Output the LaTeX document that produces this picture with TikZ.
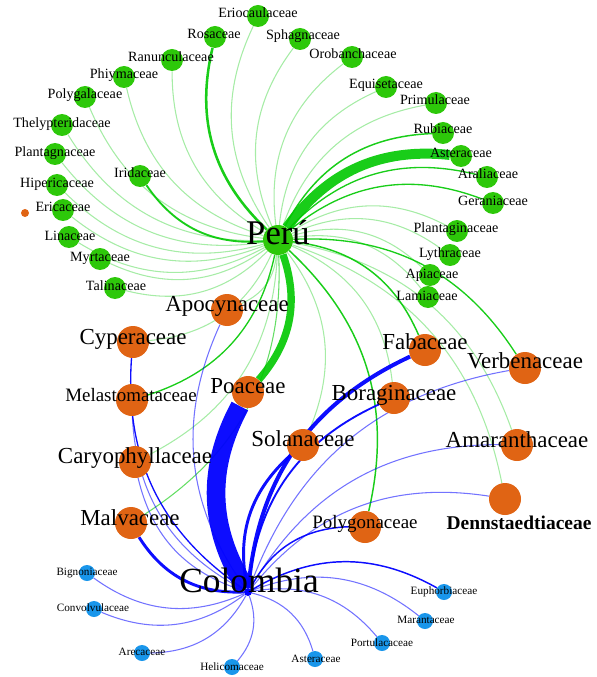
\documentclass[tikz,border=0pt]{standalone}
\usepackage{fontspec}
\setmainfont{Liberation Serif}
\pgfdeclarelayer{bg}\pgfdeclarelayer{fg}
\pgfsetlayers{bg,main,fg}
\definecolor{ngreen}{RGB}{45,200,10}
\definecolor{egreen}{RGB}{0,200,0}
\definecolor{norange}{RGB}{224,100,20}
\definecolor{nblue}{RGB}{25,150,235}
\definecolor{eblue}{RGB}{0,0,255}
\tikzset{
 gnode/.style={circle,fill=ngreen,inner sep=0,minimum size=16.5pt},
 onode/.style={circle,fill=norange,inner sep=0,minimum size=24pt},
 bnode/.style={circle,fill=nblue,inner sep=0,minimum size=12pt},
 lab/.style={inner sep=0,text height=0.45em,text depth=0pt,anchor=center,text=black},
 glab/.style={lab,font=\fontsize{10.6}{10.6}\selectfont},
 olab/.style={lab,font=\fontsize{17.2}{17.2}\selectfont},
 olabs/.style={lab,font=\fontsize{14.2}{14.2}\selectfont},
 dlab/.style={lab,font=\fontsize{14.6}{14.6}\selectfont\bfseries},
 blab/.style={lab,font=\fontsize{8.4}{8.4}\selectfont},
 hlab/.style={lab,font=\fontsize{26}{26}\selectfont},
 pe/.style={draw=egreen,draw opacity=.35,line width=.8pt,bend left=30},
 pm/.style={draw=egreen,draw opacity=.9,line width=#1,bend left=30},
 ce/.style={draw=eblue,draw opacity=.55,line width=.8pt,bend left=30},
 cm/.style={draw=eblue,draw opacity=.95,line width=#1,bend left=30},
}
\newcommand\gfam[4]{\node[gnode] (#1) at (#2) {};\begin{pgfonlayer}{fg}\node[glab] (#1-l) at (#3) {#4};\end{pgfonlayer}}
\newcommand\bfam[4]{\node[bnode] (#1) at (#2) {};\begin{pgfonlayer}{fg}\node[blab] (#1-l) at (#3) {#4};\end{pgfonlayer}}
\newcommand\ofam[5]{\node[onode] (#1) at (#2) {};\begin{pgfonlayer}{fg}\node[#4] (#1-l) at (#3) {#5};\end{pgfonlayer}}
\begin{document}
\begin{tikzpicture}[x=0.75pt,y=-0.75pt]
\useasboundingbox (0,0) rectangle (596,677);
% hubs
\node[circle,fill=ngreen,inner sep=0,minimum size=22.5pt] (Peru) at (278,240) {};
\node[circle,fill=eblue,inner sep=0,minimum size=6pt] (Colombia) at (248,592) {};
\begin{pgfonlayer}{fg}
\node[hlab] (Peru-l) at (278,241) {Perú};
\node[hlab,font=\fontsize{26.5}{26.5}\selectfont] (Colombia-l) at (249,589) {Colombia};
\end{pgfonlayer}
% green families
\gfam{Eriocaulaceae}{258,16}{258,15}{Eriocaulaceae}
\gfam{Rosaceae}{215,37}{214,36}{Rosaceae}
\gfam{Sphagnaceae}{300,39}{303,37}{Sphagnaceae}
\gfam{Ranunculaceae}{172,60}{171,59}{Ranunculaceae}
\gfam{Orobanchaceae}{352,57}{353,56}{Orobanchaceae}
\gfam{Phiymaceae}{124,77}{124,76}{Phiymaceae}
\gfam{Polygalaceae}{85,97}{85,96}{Polygalaceae}
\gfam{Equisetaceae}{386,87}{386,86}{Equisetaceae}
\gfam{Primulaceae}{436,103}{435,102}{Primulaceae}
\gfam{Thelypteridaceae}{62,125}{62,125}{Thelypteridaceae}
\gfam{Rubiaceae}{443,133}{443,131}{Rubiaceae}
\gfam{Plantagnaceae}{55,154}{55,154}{Plantagnaceae}
\gfam{AsteraceaeP}{461,156}{461,155}{Asteraceae}
\gfam{Iridaceae}{140,176}{140,175}{Iridaceae}
\gfam{Hipericaceae}{57,185}{57,185}{Hipericaceae}
\gfam{Araliaceae}{487,177}{488,176}{Araliaceae}
\gfam{Ericaceae}{63,210}{63,209}{Ericaceae}
\gfam{Geraniaceae}{493,203}{493,202}{Geraniaceae}
\gfam{Linaceae}{69,237}{70,237}{Linaceae}
\gfam{Plantaginaceae}{457,231}{456,230}{Plantaginaceae}
\gfam{Myrtaceae}{100,259}{100,258}{Myrtaceae}
\gfam{Lythraceae}{450,255}{450,254}{Lythraceae}
\gfam{Apiaceae}{430,275}{432,275}{Apiaceae}
\gfam{Talinaceae}{115,288}{116,287}{Talinaceae}
\gfam{Lamiaceae}{428,297}{427,297}{Lamiaceae}
\node[circle,fill=norange,inner sep=0,minimum size=6pt] (Dot) at (25,213) {};
% orange families
\ofam{Apocynaceae}{227,310}{227,308}{olab}{Apocynaceae}
\ofam{Cyperaceae}{133,342}{133,341}{olab}{Cyperaceae}
\ofam{Melastomataceae}{132,400}{131,398}{olabs}{Melastomataceae}
\ofam{Poaceae}{248,392}{248,390}{olab}{Poaceae}
\ofam{Caryophyllaceae}{135,462}{135,460}{olab}{Caryophyllaceae}
\ofam{Malvaceae}{131,523}{130,522}{olab}{Malvaceae}
\ofam{Fabaceae}{425,350}{425,346}{olab}{Fabaceae}
\ofam{Verbenaceae}{525,368}{525,365}{olab}{Verbenaceae}
\ofam{Boraginaceae}{394,398}{394,397}{olab}{Boraginaceae}
\ofam{Solanaceae}{303,445}{303,443}{olab}{Solanaceae}
\ofam{Amaranthaceae}{517,445}{517,444}{olab}{Amaranthaceae}
\ofam{Dennstaedtiaceae}{505,499}{519,526}{dlab}{Dennstaedtiaceae}
\ofam{Polygonaceae}{365,527}{365,525}{olabs}{Polygonaceae}
% blue families
\bfam{Bignoniaceae}{87,573}{87,572}{Bignoniaceae}
\bfam{Convolvulaceae}{94,609}{93,608}{Convolvulaceae}
\bfam{Arecaceae}{142,653}{142,652}{Arecaceae}
\bfam{Helicomaceae}{232,667}{232,667}{Helicomaceae}
\bfam{AsteraceaeC}{315,659}{316,659}{Asteraceae}
\bfam{Portulacaceae}{382,643}{382,643}{Portulacaceae}
\bfam{Marantaceae}{425,621}{426,620}{Marantaceae}
\bfam{Euphorbiaceae}{444,592}{444,591}{Euphorbiaceae}
% edges
\begin{pgfonlayer}{bg}
\foreach \t in {Eriocaulaceae,Sphagnaceae,Ranunculaceae,Orobanchaceae,Phiymaceae,Polygalaceae,Equisetaceae,Primulaceae,Thelypteridaceae,Plantagnaceae,Hipericaceae,Ericaceae,Linaceae,Myrtaceae,Talinaceae,Plantaginaceae,Lythraceae,Apiaceae,Lamiaceae,Apocynaceae,Cyperaceae,Caryophyllaceae,Boraginaceae,Solanaceae,Amaranthaceae,Dennstaedtiaceae}
  \draw[pe] (Peru) to (\t);
\draw[pm=1.9pt] (Peru) to (Rosaceae);
\draw[pm=1.4pt] (Peru) to (Iridaceae);
\draw[pm=1.1pt] (Peru) to (Rubiaceae);
\draw[pm=1pt] (Peru) to (Araliaceae);
\draw[pm=1pt] (Peru) to (Geraniaceae);
\draw[pm=1pt] (Peru) to (Melastomataceae);
\draw[pm=.8pt,draw opacity=.6] (Peru) to (Malvaceae);
\draw[pm=1.1pt] (Peru) to (Fabaceae);
\draw[pm=1pt] (Peru) to (Verbenaceae);
\draw[pm=1.1pt] (Peru) to (Polygonaceae);
\draw[pm=7.5pt] (Peru) to (AsteraceaeP);
\draw[pm=5.5pt] (Peru) to (Poaceae);
\foreach \t in {Apocynaceae,Melastomataceae,Caryophyllaceae,Verbenaceae,Amaranthaceae,Dennstaedtiaceae,Bignoniaceae,Convolvulaceae,Arecaceae,Helicomaceae,AsteraceaeC,Portulacaceae,Marantaceae}
  \draw[ce] (Colombia) to (\t);
\draw[cm=14pt] (Colombia) to (Poaceae);
\draw[cm=3pt] (Colombia) to (Fabaceae);
\draw[cm=2.2pt] (Colombia) to (Solanaceae);
\draw[cm=2.2pt] (Colombia) to (Malvaceae);
\draw[cm=1.4pt] (Colombia) to (Boraginaceae);
\draw[cm=1.1pt] (Colombia) to (Polygonaceae);
\draw[cm=1.1pt] (Colombia) to (Euphorbiaceae);
\draw[cm=1pt] (Colombia) to (Cyperaceae);
\end{pgfonlayer}
\end{tikzpicture}
\end{document}
